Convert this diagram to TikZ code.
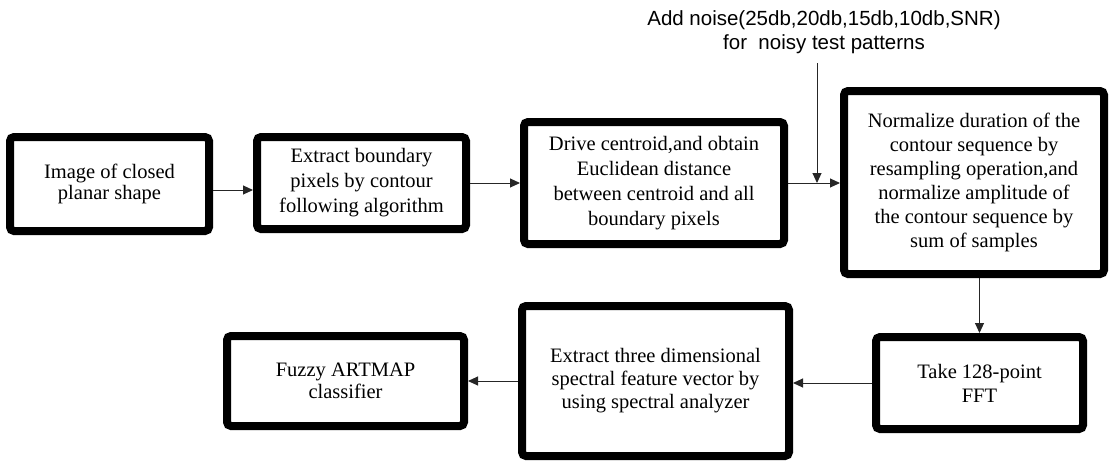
\documentclass[tikz,border=0pt]{standalone}
\usepackage{fontspec}
\setmainfont{Liberation Serif}
\newfontfamily\arialfont{Liberation Sans}
\usetikzlibrary{arrows.meta}
\begin{document}
\begin{tikzpicture}[x=1pt,y=-1pt,
  boxnode/.style={draw=black,line width=8pt,rounded corners=4pt,fill=white,
    inner sep=0pt,align=center,font=\fontsize{20.5}{22}\selectfont},
  arr/.style={draw=black!85,line width=1pt,-{Triangle[length=10pt,width=9pt]}}
]
\useasboundingbox (0,0) rectangle (1111,461);
\node[boxnode,minimum width=199pt,minimum height=94pt,font=\fontsize{20.5}{21}\selectfont] (b1) at (109.5,184)
  {Image of closed\\planar shape};
\node[boxnode,minimum width=209pt,minimum height=92pt,font=\fontsize{20.5}{25}\selectfont] (b2) at (361.5,183)
  {Extract boundary\\pixels by contour\\following algorithm};
\node[boxnode,minimum width=260pt,minimum height=122pt,font=\fontsize{20.5}{25}\selectfont] (b3) at (654,183)
  {Drive centroid,and obtain\\Euclidean distance\\between centroid and all\\boundary pixels};
\node[boxnode,minimum width=260pt,minimum height=183pt,font=\fontsize{20.5}{24}\selectfont] (b4) at (974,182.5)
  {Normalize duration of the\\contour sequence by\\resampling operation,and\\normalize amplitude of\\the contour sequence by\\sum of samples};
\node[boxnode,minimum width=207pt,minimum height=92pt,font=\fontsize{20.5}{24}\selectfont] (b5) at (979.5,383)
  {Take 128-point\\FFT};
\node[boxnode,minimum width=267pt,minimum height=150pt,font=\fontsize{20.5}{23}\selectfont] (b6) at (655.5,381)
  {Extract three dimensional\\spectral feature vector by\\using spectral analyzer};
\node[boxnode,minimum width=237pt,minimum height=90pt,font=\fontsize{20.5}{22}\selectfont] (b7) at (345.5,381)
  {Fuzzy ARTMAP\\classifier};
\node[align=center,inner sep=0pt,font=\arialfont\fontsize{20.5}{24}\selectfont] (noise) at (824,32)
  {Add noise(25db,20db,15db,10db,SNR)\\for~ noisy test patterns};
\coordinate (ntop) at (817,63);
\draw[arr] ([yshift=-6pt]b1.east) -- ([yshift=-6pt]b1.east -| b2.west);
\draw[arr] (b2.east) -- (b2.east -| b3.west);
\draw[arr] (b3.east) -- (b3.east -| b4.west);
\draw[arr] (ntop) -- (ntop |- b3.east);
\draw[arr] (b5.north |- b4.south) -- (b5.north);
\draw[arr] (b5.west) -- (b5.west -| b6.east);
\draw[arr] (b6.west |- b7.east) -- (b7.east);
\end{tikzpicture}
\end{document}
